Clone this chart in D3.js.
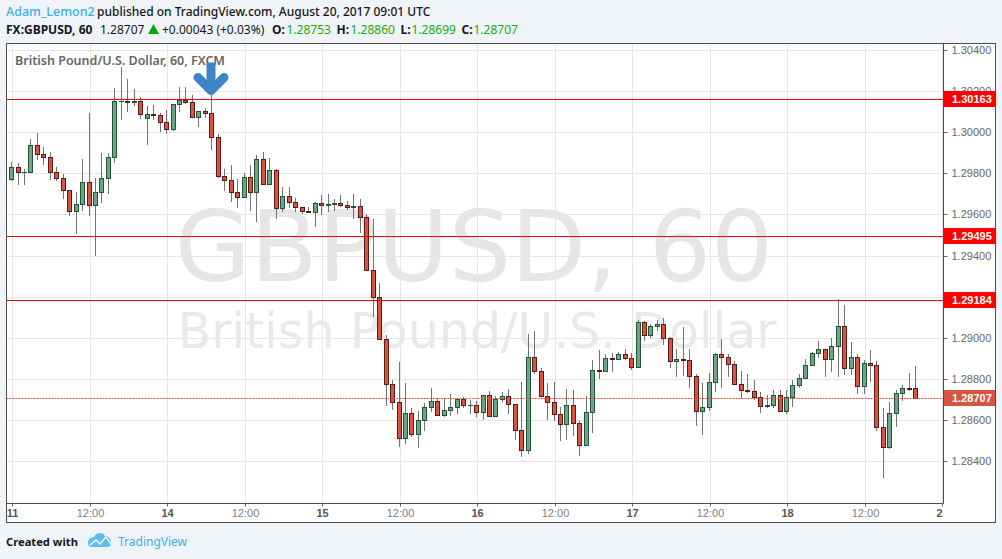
<!DOCTYPE html>
<html>
<head>
<meta charset="utf-8">
<script src="https://cdn.jsdelivr.net/npm/d3@7"></script>
<style>
    html, body { margin: 0; padding: 0; background: #f0f3f7; }
    svg { display: block; }
    text { font-family: "Noto Sans", sans-serif; }
    .axis text { font-family: "Liberation Sans", Arial, sans-serif; }
</style>
</head>
<body>
<svg id="drawing_region"></svg>
<script>
// hourly bars, left to right
const opens = [
    1.29773,1.29831,1.29807,1.29807,1.29938,1.29894,1.29880,1.29807,1.29777,1.29719,
    1.29617,1.29651,1.29758,1.29646,1.29709,1.29777,1.29880,1.30152,1.30152,1.30147,
    1.30152,1.30069,1.30089,1.30084,1.30050,1.30016,1.30137,1.30157,1.30147,1.30074,
    1.30103,1.30094,1.29977,1.29787,1.29768,1.29709,1.29685,1.29782,1.29709,1.29870,
    1.29748,1.29816,1.29632,1.29690,1.29661,1.29636,1.29617,1.29612,1.29656,1.29646,
    1.29651,1.29656,1.29646,1.29636,1.29641,1.29588,1.29330,1.29199,1.28994,1.28775,
    1.28688,1.28513,1.28634,1.28532,1.28600,1.28664,1.28693,1.28625,1.28649,1.28664,
    1.28702,1.28673,1.28673,1.28639,1.28722,1.28620,1.28702,1.28717,1.28678,1.28552,
    1.28454,1.28907,1.28839,1.28717,1.28688,1.28630,1.28581,1.28673,1.28586,1.28479,
    1.28639,1.28844,1.28839,1.28902,1.28897,1.28921,1.28902,1.28858,1.29077,1.29014,
    1.29058,1.29067,1.28999,1.28887,1.28897,1.28892,1.28814,1.28644,1.28664,1.28785,
    1.28921,1.28907,1.28873,1.28775,1.28746,1.28741,1.28712,1.28668,1.28673,1.28722,
    1.28644,1.28712,1.28771,1.28805,1.28868,1.28926,1.28946,1.28897,1.28960,1.29058,
    1.28853,1.28907,1.28766,1.28878,1.28868,1.28566,1.28469,1.28634,1.28732,1.28756,1.28756
];
const highs = [
    1.29855,1.29850,1.29821,1.29967,1.29996,1.29928,1.29904,1.29831,1.29797,1.29719,
    1.29709,1.29870,1.30094,1.29777,1.29899,1.29899,1.30215,1.30317,1.30259,1.30210,
    1.30171,1.30128,1.30132,1.30094,1.30108,1.30137,1.30220,1.30220,1.30181,1.30103,
    1.30118,1.30181,1.29991,1.29821,1.29841,1.29773,1.29802,1.29841,1.29889,1.29904,
    1.29875,1.29821,1.29734,1.29734,1.29680,1.29636,1.29636,1.29661,1.29695,1.29700,
    1.29675,1.29695,1.29666,1.29700,1.29675,1.29602,1.29578,1.29267,1.29014,1.28795,
    1.28883,1.28780,1.28659,1.28644,1.28683,1.28756,1.28707,1.28707,1.28727,1.28707,
    1.28712,1.28698,1.28693,1.28722,1.28741,1.28717,1.28737,1.28751,1.28678,1.28785,
    1.29019,1.29033,1.28853,1.28780,1.28785,1.28664,1.28751,1.28746,1.28595,1.28717,
    1.28892,1.28941,1.28921,1.28926,1.28931,1.28946,1.28926,1.29087,1.29082,1.29067,
    1.29087,1.29097,1.29004,1.28946,1.29053,1.28946,1.28824,1.28780,1.28829,1.28926,
    1.28994,1.28921,1.28887,1.28839,1.28824,1.28795,1.28737,1.28722,1.28746,1.28746,
    1.28746,1.28795,1.28824,1.28897,1.28931,1.28985,1.28946,1.28999,1.29189,1.29160,
    1.28980,1.28921,1.28892,1.28941,1.28887,1.28659,1.28688,1.28746,1.28771,1.28829,1.28863
];
const lows = [
    1.29768,1.29748,1.29748,1.29807,1.29870,1.29845,1.29773,1.29768,1.29680,1.29597,
    1.29510,1.29622,1.29597,1.29403,1.29661,1.29704,1.29855,1.30064,1.30103,1.30132,
    1.30069,1.29943,1.30064,1.30006,1.29996,1.30011,1.30103,1.30142,1.30074,1.30030,
    1.30074,1.29918,1.29782,1.29719,1.29666,1.29636,1.29685,1.29622,1.29568,1.29748,
    1.29748,1.29583,1.29617,1.29636,1.29617,1.29607,1.29612,1.29544,1.29602,1.29617,
    1.29622,1.29641,1.29627,1.29583,1.29515,1.29330,1.29106,1.28994,1.28673,1.28654,
    1.28474,1.28488,1.28523,1.28469,1.28552,1.28644,1.28625,1.28620,1.28625,1.28634,
    1.28664,1.28634,1.28620,1.28605,1.28620,1.28620,1.28693,1.28634,1.28508,1.28425,
    1.28440,1.28829,1.28717,1.28605,1.28600,1.28503,1.28508,1.28527,1.28430,1.28479,
    1.28542,1.28805,1.28839,1.28839,1.28897,1.28897,1.28848,1.28858,1.28989,1.29004,
    1.29038,1.28970,1.28858,1.28814,1.28819,1.28761,1.28576,1.28532,1.28649,1.28741,
    1.28761,1.28814,1.28775,1.28712,1.28737,1.28702,1.28639,1.28664,1.28664,1.28644,
    1.28634,1.28668,1.28761,1.28805,1.28868,1.28907,1.28814,1.28839,1.28814,1.28824,
    1.28824,1.28732,1.28732,1.28790,1.28552,1.28323,1.28464,1.28571,1.28698,1.28746,1.28707
];
const closes = [
    1.29831,1.29807,1.29807,1.29938,1.29894,1.29880,1.29807,1.29777,1.29719,1.29617,
    1.29651,1.29758,1.29646,1.29709,1.29777,1.29880,1.30152,1.30152,1.30147,1.30152,
    1.30089,1.30089,1.30084,1.30050,1.30016,1.30137,1.30157,1.30147,1.30074,1.30103,
    1.30094,1.29977,1.29787,1.29768,1.29709,1.29685,1.29782,1.29709,1.29870,1.29748,
    1.29816,1.29632,1.29690,1.29661,1.29636,1.29617,1.29612,1.29656,1.29646,1.29651,
    1.29656,1.29646,1.29636,1.29641,1.29588,1.29330,1.29199,1.28994,1.28775,1.28688,
    1.28513,1.28634,1.28532,1.28600,1.28664,1.28693,1.28625,1.28649,1.28664,1.28702,
    1.28673,1.28673,1.28639,1.28722,1.28620,1.28702,1.28717,1.28678,1.28552,1.28454,
    1.28907,1.28839,1.28717,1.28688,1.28630,1.28581,1.28673,1.28586,1.28479,1.28639,
    1.28844,1.28839,1.28902,1.28897,1.28921,1.28902,1.28858,1.29077,1.29014,1.29058,
    1.29067,1.28999,1.28887,1.28897,1.28892,1.28814,1.28644,1.28664,1.28785,1.28921,
    1.28907,1.28873,1.28775,1.28746,1.28741,1.28712,1.28668,1.28673,1.28722,1.28644,
    1.28712,1.28771,1.28805,1.28868,1.28926,1.28946,1.28897,1.28960,1.29058,1.28853,
    1.28907,1.28766,1.28878,1.28868,1.28566,1.28469,1.28634,1.28732,1.28756,1.28751,1.28707
];

const priceTicks = [1.304, 1.302, 1.300, 1.298, 1.296, 1.294, 1.292, 1.290, 1.288, 1.286, 1.284];
const timeTicks = [0, 12, 24, 36, 48, 60, 72, 84, 96, 108, 120, 132, 144];
const timeLabels = ['11', '12:00', '14', '12:00', '15', '12:00', '16', '12:00', '17', '12:00', '18', '12:00', '2'];
const levels = [1.30163, 1.29495, 1.29184];
const lastPrice = 1.28707;

const config = {
    width: 1002,
    height: 559,
    left: 6.5,
    top: 43.5,
    right: 943.5,
    bottom: 503.5,
    outerRight: 995.5,
    outerBottom: 522.5
};

const svg = d3.select('#drawing_region')
    .attr('width', config.width)
    .attr('height', config.height)
    .attr('viewBox', `0 0 ${config.width} ${config.height}`);

const xscale = d3.scaleLinear().domain([0, 144]).range([12.58, 942.53]);
const yscale = d3.scaleLinear().domain([1.284, 1.304]).range([461.7, 50.5]);
const col = i => Math.floor(xscale(i));
const row = v => Math.floor(yscale(v));

// panel
svg.append('rect')
    .attr('x', config.left).attr('y', config.top)
    .attr('width', config.outerRight - config.left)
    .attr('height', config.outerBottom - config.top)
    .attr('fill', '#fff').attr('stroke', '#4c4c4c');

// clip for everything inside the plot
svg.append('clipPath').attr('id', 'plot_clip').append('rect')
    .attr('x', config.left + 0.5).attr('y', config.top + 0.5)
    .attr('width', config.right - config.left - 1)
    .attr('height', config.bottom - config.top - 1);

const plot = svg.append('g').attr('clip-path', 'url(#plot_clip)');

// grid
plot.append('g').selectAll('line').data(priceTicks).join('line')
    .attr('x1', config.left).attr('x2', config.right)
    .attr('y1', d => row(d) + 0.5).attr('y2', d => row(d) + 0.5)
    .attr('stroke', '#e6e6e6');
plot.append('g').selectAll('line').data(timeTicks).join('line')
    .attr('y1', config.top).attr('y2', config.bottom)
    .attr('x1', d => col(d) + 0.5).attr('x2', d => col(d) + 0.5)
    .attr('stroke', '#e6e6e6');

// watermark
plot.append('text')
    .attr('x', 474).attr('y', 281)
    .attr('text-anchor', 'middle')
    .attr('font-size', '98px')
    .attr('fill', '#e6e6e6')
    .style('font-family', '"DejaVu Sans", sans-serif')
    .text('GBPUSD, 60');
plot.append('text')
    .attr('x', 477).attr('y', 348)
    .attr('text-anchor', 'middle')
    .attr('font-size', '49px')
    .attr('fill', '#e9e9e9')
    .style('font-family', '"DejaVu Sans", sans-serif')
    .text('British Pound/U.S. Dollar');

plot.append('text')
    .attr('x', 15).attr('y', 65)
    .attr('font-size', '12.5px').attr('font-weight', 600)
    .attr('fill', '#666')
    .text('British Pound/U.S. Dollar, 60, FXCM');

// candles
const candles = plot.append('g').selectAll('g').data(d3.range(opens.length)).join('g');
const isUp = i => closes[i] >= opens[i];

candles.append('line')
    .attr('x1', i => col(i) - 0.5).attr('x2', i => col(i) - 0.5)
    .attr('y1', i => row(highs[i])).attr('y2', i => row(lows[i]) + 1)
    .attr('stroke', '#737375');
candles.append('rect')
    .attr('x', i => col(i) - 3)
    .attr('y', i => row(Math.max(opens[i], closes[i])))
    .attr('width', 5)
    .attr('height', i => row(Math.min(opens[i], closes[i])) - row(Math.max(opens[i], closes[i])) + 1)
    .attr('fill', i => isUp(i) ? '#225437' : '#5b1a13');
candles.append('rect')
    .attr('x', i => col(i) - 2)
    .attr('y', i => row(Math.max(opens[i], closes[i])) + 1)
    .attr('width', 3)
    .attr('height', i => Math.max(0, row(Math.min(opens[i], closes[i])) - row(Math.max(opens[i], closes[i])) - 1))
    .attr('fill', i => isUp(i) ? '#6ba583' : '#d75442');

// horizontal levels
plot.append('g').selectAll('line').data(levels).join('line')
    .attr('x1', config.left).attr('x2', config.right)
    .attr('y1', d => row(d) + 0.5).attr('y2', d => row(d) + 0.5)
    .attr('stroke', '#ff0000');
plot.append('line')
    .attr('x1', config.left).attr('x2', config.right)
    .attr('y1', row(lastPrice) + 0.5).attr('y2', row(lastPrice) + 0.5)
    .attr('stroke', '#d75442').attr('stroke-dasharray', '2 1');

// arrow, tip sits on the high of the marked bar
const markBar = 31;
const ax = col(markBar) - 1;
const ay = row(highs[markBar]);
const arrow = svg.append('g')
    .attr('transform', `translate(${ax},${ay})`)
    .attr('fill', 'none').attr('stroke', '#3d85c6').attr('stroke-width', 9)
    .attr('stroke-linejoin', 'round');
arrow.append('path').attr('d', 'M0,-32.5V-6');
arrow.append('path').attr('d', 'M-13,-17.5L0,-4.5L13,-17.5').attr('stroke-linecap', 'round');

// axes
const yaxis = d3.axisRight(yscale).tickValues(priceTicks).tickSize(4).tickPadding(4)
    .tickFormat(d3.format('.5f'));
const yaxis_group = svg.append('g').attr('class', 'axis')
    .attr('transform', `translate(${config.right},0)`)
    .call(yaxis);
yaxis_group.select('.domain').remove();
yaxis_group.selectAll('.tick').attr('transform', d => `translate(0,${row(d) + 0.5})`);
yaxis_group.selectAll('.tick line').attr('stroke', '#666');
yaxis_group.selectAll('.tick text')
    .attr('font-size', '11px').attr('fill', '#666').attr('dy', '0.34em');

const xaxis = d3.axisBottom(xscale).tickValues(timeTicks).tickSize(3).tickPadding(3)
    .tickFormat((d, i) => timeLabels[i]);
const xaxis_group = svg.append('g').attr('class', 'axis')
    .attr('transform', `translate(0,${config.bottom})`)
    .call(xaxis);
xaxis_group.select('.domain').remove();
xaxis_group.selectAll('.tick').attr('transform', d => `translate(${col(d) + 0.5},0)`);
xaxis_group.selectAll('.tick line').attr('stroke', '#666');
xaxis_group.selectAll('.tick text')
    .attr('font-size', '11px')
    .attr('fill', (d, i) => timeLabels[i].includes(':') ? '#808080' : '#555')
    .attr('font-weight', (d, i) => timeLabels[i].includes(':') ? 400 : 700);
xaxis_group.selectAll('.tick').filter(d => d === 144).select('text').attr('dx', -3);

// plot frame lines
svg.append('line')
    .attr('x1', config.right).attr('x2', config.right)
    .attr('y1', config.top).attr('y2', config.bottom)
    .attr('stroke', '#4c4c4c');
svg.append('line')
    .attr('x1', config.left).attr('x2', config.right)
    .attr('y1', config.bottom).attr('y2', config.bottom)
    .attr('stroke', '#4c4c4c');

// price flags
const flags = levels.map(d => ({ v: d, c: '#ff0000' })).concat([{ v: lastPrice, c: '#d75442' }]);
const flag = svg.append('g').attr('class', 'axis').selectAll('g').data(flags).join('g')
    .attr('transform', d => `translate(${config.right + 0.5},${row(d.v) - 8})`);
flag.append('rect')
    .attr('width', config.outerRight - config.right - 1).attr('height', 16)
    .attr('fill', d => d.c);
flag.append('text')
    .attr('x', 8).attr('y', 12)
    .attr('font-size', '11px').attr('font-weight', 700).attr('fill', '#fff')
    .text(d => d3.format('.5f')(d.v));

// header
const header = svg.append('text').attr('x', 6).attr('y', 16).attr('font-size', '12px').attr('font-weight', 500);
header.append('tspan').attr('fill', '#3cb1e6').attr('font-size', '12.5px').text('Adam_Lemon2');
header.append('tspan').attr('x', 97).attr('fill', '#131722')
    .text('published on TradingView.com, August 20, 2017 09:01 UTC');

const quote = [
    { x: 6, t: 'FX:GBPUSD, 60', c: '#131722', w: 700 },
    { x: 100, t: '1.28707', c: '#131722', w: 400 },
    { x: 162, t: '+0.00043 (+0.03%)', c: '#131722', w: 400 },
    { x: 272, t: 'O:', c: '#131722', w: 700 },
    { x: 286.5, t: '1.28753', c: '#1eab0b', w: 400 },
    { x: 336.5, t: 'H:', c: '#131722', w: 700 },
    { x: 350.5, t: '1.28860', c: '#1eab0b', w: 400 },
    { x: 400.5, t: 'L:', c: '#131722', w: 700 },
    { x: 411.5, t: '1.28699', c: '#1eab0b', w: 400 },
    { x: 461.5, t: 'C:', c: '#131722', w: 700 },
    { x: 473.5, t: '1.28707', c: '#1eab0b', w: 400 }
];
svg.append('g').selectAll('text').data(quote).join('text')
    .attr('x', d => d.x).attr('y', 34)
    .attr('font-size', '12px')
    .attr('fill', d => d.c).attr('font-weight', d => d.w)
    .text(d => d.t);
svg.append('path').attr('d', 'M148,34L153.5,24L159,34Z').attr('fill', '#0aa50a');

// footer
svg.append('text').attr('x', 6).attr('y', 546).attr('font-size', '11.2px').attr('font-weight', 700)
    .attr('fill', '#131722').text('Created with');
svg.append('path')
    .attr('d', 'M88,543C88,538 92,537 94,537C96,532 103,532 105,536C109,536 112,540 111,544C110,547 108,547 106,547H92C90,547 88,546 88,543Z')
    .attr('fill', '#5cc0ea');
svg.append('path')
    .attr('d', 'M90,545L96,540L100,544L106,537L111,544')
    .attr('fill', 'none').attr('stroke', '#f0f3f7').attr('stroke-width', 1.5);
svg.append('text').attr('x', 118).attr('y', 546).attr('font-size', '12px')
    .attr('fill', '#3cb1e6').text('TradingView');
</script>
</body>
</html>
